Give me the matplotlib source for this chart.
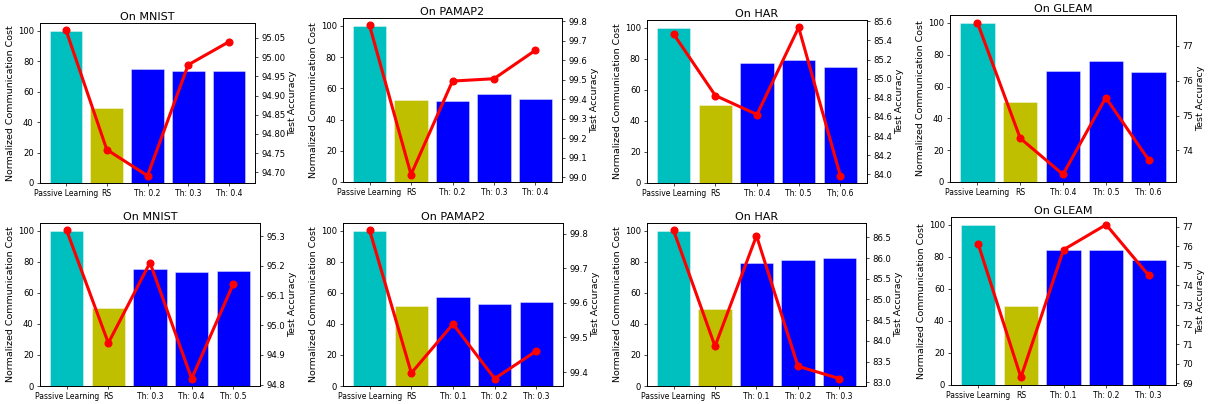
import numpy as np
import matplotlib
matplotlib.use('Agg')
import matplotlib.pyplot as plt
from matplotlib.ticker import MultipleLocator

# panel titles, top row then bottom row
titles = ['On MNIST', 'On PAMAP2', 'On HAR', 'On GLEAM',
          'On MNIST', 'On PAMAP2', 'On HAR', 'On GLEAM']

# x tick labels of every panel
labels_mnist_1 = ['Passive Learning', 'RS', 'Th: 0.2', 'Th: 0.3', 'Th: 0.4']
labels_pamap_1 = ['Passive Learning', 'RS', 'Th: 0.2', 'Th: 0.3', 'Th: 0.4']
labels_har_1 = ['Passive Learning', 'RS', 'Th: 0.4', 'Th: 0.5', 'Th; 0.6']
labels_gleam_1 = ['Passive Learning', 'RS', 'Th: 0.4', 'Th: 0.5', 'Th: 0.6']
labels_mnist_2 = ['Passive Learning', 'RS', 'Th: 0.3', 'Th: 0.4', 'Th: 0.5']
labels_pamap_2 = ['Passive Learning', 'RS', 'Th: 0.1', 'Th: 0.2', 'Th: 0.3']
labels_har_2 = ['Passive Learning', 'RS', 'Th: 0.1', 'Th: 0.2', 'Th: 0.3']
labels_gleam_2 = ['Passive Learning', 'RS', 'Th: 0.1', 'Th: 0.2', 'Th: 0.3']

# normalized communication cost (bars)
cost_mnist_1 = [100, 49.5, 74.5, 73.8, 73.3]
cost_pamap_1 = [100, 52.5, 52.0, 56.3, 53.0]
cost_har_1 = [100, 50.0, 77.5, 79.0, 74.5]
cost_gleam_1 = [100, 50.5, 69.5, 76.0, 69.0]
cost_mnist_2 = [100, 50.0, 75.5, 73.3, 74.3]
cost_pamap_2 = [100, 51.5, 57.5, 53.0, 54.0]
cost_har_2 = [100, 49.5, 79.5, 81.0, 82.5]
cost_gleam_2 = [100, 49.5, 84.5, 84.5, 78.0]

# test accuracy (red line)
acc_mnist_1 = [95.070, 94.759, 94.691, 94.980, 95.040]
acc_pamap_1 = [99.779, 99.015, 99.494, 99.506, 99.652]
acc_har_1 = [85.467, 84.824, 84.625, 85.537, 83.986]
acc_gleam_1 = [77.67, 74.35, 73.31, 75.515, 73.73]
acc_mnist_2 = [95.320, 94.940, 95.211, 94.820, 95.140]
acc_pamap_2 = [99.810, 99.397, 99.539, 99.381, 99.461]
acc_har_2 = [86.669, 83.869, 86.540, 83.386, 83.088]
acc_gleam_2 = [76.10, 69.31, 75.82, 77.10, 74.51]

labels = [labels_mnist_1, labels_pamap_1, labels_har_1, labels_gleam_1,
          labels_mnist_2, labels_pamap_2, labels_har_2, labels_gleam_2]
costs = [cost_mnist_1, cost_pamap_1, cost_har_1, cost_gleam_1,
         cost_mnist_2, cost_pamap_2, cost_har_2, cost_gleam_2]
accs = [acc_mnist_1, acc_pamap_1, acc_har_1, acc_gleam_1,
        acc_mnist_2, acc_pamap_2, acc_har_2, acc_gleam_2]

# right axis tick step per panel
acc_steps = [0.05, 0.1, 0.2, 1, 0.1, 0.1, 0.5, 1]

# axes boxes in pixels: left, right, top, bottom
boxes = [(40, 255, 23, 183), (343, 562, 18, 182), (647, 867, 20, 183), (950, 1176, 15, 182),
         (40, 260, 223, 386), (343, 563, 223, 386), (647, 866, 223, 386), (951, 1176, 217, 385)]

W, H = 1210, 404
fig = plt.figure(figsize=(W/100, H/100), dpi=100)
bar_colors = ['c', 'y', 'b', 'b', 'b']
plt.rcParams['axes.linewidth'] = 0.6

for i in range(8):
    l, r, t, b = boxes[i]
    ax = fig.add_axes([l/W, 1-b/H, (r-l)/W, (b-t)/H])
    x = np.arange(len(costs[i]))
    ax.bar(x, costs[i], color=bar_colors, width=0.8,
           edgecolor=(1, 1, 1, 0.45), linewidth=0.6)
    ax.set_xticks(x)
    ax.set_xticklabels(labels[i], fontsize=5.5)
    ax.yaxis.set_major_locator(MultipleLocator(20))
    ax.tick_params(axis='y', labelsize=6.1, width=0.5, length=2.5, pad=2)
    ax.tick_params(axis='x', width=0.5, length=2.5, pad=1.5)
    ax.set_ylabel('Normalized Communication Cost', fontsize=6.8, labelpad=2)
    ax.set_title(titles[i], fontsize=8, pad=2.5)
    ax2 = ax.twinx()
    ax2.plot(x, accs[i], 'ro-', linewidth=2.2, markersize=4.8)
    ax2.yaxis.set_major_locator(MultipleLocator(acc_steps[i]))
    ax2.tick_params(axis='y', labelsize=6.1, width=0.5, length=2.5, pad=2)
    ax2.set_ylabel('Test Accuracy', fontsize=6.8, labelpad=2)

fig.savefig('out.png', dpi=100)
